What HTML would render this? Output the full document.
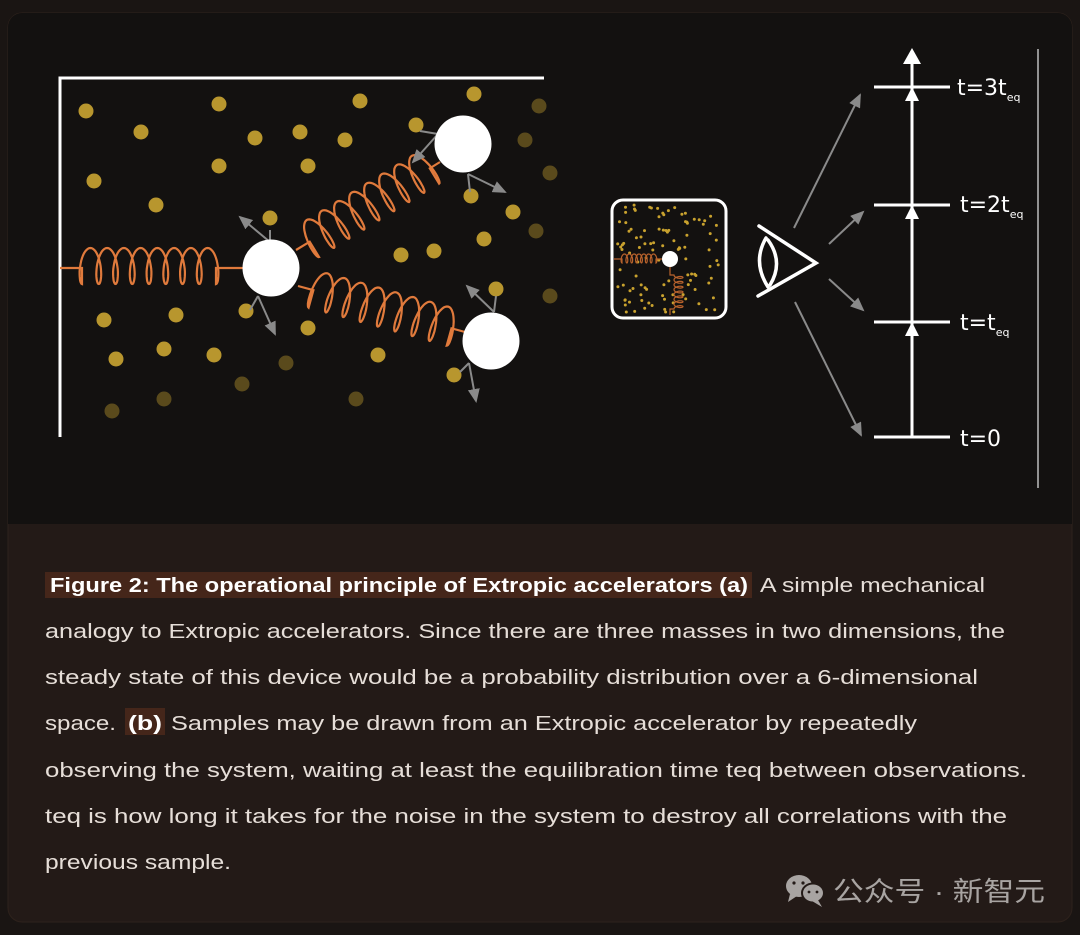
<!DOCTYPE html>
<html><head><meta charset="utf-8"><style>
html,body{margin:0;padding:0;background:#1a1513;}
svg{display:block}
</style></head><body>
<svg id="s" width="1080" height="935" viewBox="0 0 1080 935" xmlns="http://www.w3.org/2000/svg">
<rect x="0" y="0" width="1080" height="935" fill="#1a1513"/>
<rect x="8" y="13" width="1064" height="909" rx="14" fill="#231a17" stroke="#2e221c" stroke-width="1"/>
<path d="M8 27 a14 14 0 0 1 14 -14 H1058 a14 14 0 0 1 14 14 V524 H8 Z" fill="#131110"/>
<path d="M60 437 V78 H544" fill="none" stroke="#fff" stroke-width="3"/>
<g id="dots"></g>
<g id="springs" fill="none" stroke="#e07a3c" stroke-width="2.2"></g>
<defs>
<marker id="gb" markerWidth="14" markerHeight="12" refX="12" refY="6" orient="auto" markerUnits="userSpaceOnUse"><path d="M0 0 L14 6 L0 12 Z" fill="#8a8a8a"/></marker>
</defs>
<g stroke="#8a8a8a" stroke-width="2" fill="none">
<path d="M270 242 L240 217" marker-end="url(#gb)"/><path d="M270 242 V230"/>
<path d="M258 296 L275 334" marker-end="url(#gb)"/><path d="M258 296 L250 310"/>
<path d="M438 134 L413 162" marker-end="url(#gb)"/><path d="M438 134 L420 131"/>
<path d="M468 174 L505 192" marker-end="url(#gb)"/><path d="M468 174 L470 192"/>
<path d="M494 312 L467 286" marker-end="url(#gb)"/><path d="M494 312 L496 296"/>
<path d="M469 363 L476 401" marker-end="url(#gb)"/><path d="M469 363 L460 372"/>
</g>
<g fill="#fff">
<circle cx="271" cy="268" r="28.5"/>
<circle cx="463" cy="144" r="28.5"/>
<circle cx="491" cy="341" r="28.5"/>
</g>
<rect x="612" y="200" width="114" height="118" rx="11" fill="#131110" stroke="#fff" stroke-width="3"/>
<g id="sdots"></g>
<g id="ssprings" fill="none" stroke="#b8622c" stroke-width="1.2"></g>
<circle cx="670" cy="259" r="8" fill="#fff"/>
<g fill="none" stroke="#fff" stroke-width="3.5" stroke-linecap="round">
<path d="M759 226 L816 263 L758 296"/>
<path d="M766 238 Q752 262 768 287"/>
<path d="M768 240 Q784 262 770 285"/>
</g>
<g stroke="#8a8a8a" stroke-width="2" fill="none">
<path d="M794 228 L860 95" marker-end="url(#gb)"/>
<path d="M829 244 L863 212" marker-end="url(#gb)"/>
<path d="M829 279 L863 310" marker-end="url(#gb)"/>
<path d="M795 302 L861 435" marker-end="url(#gb)"/>
</g>
<g stroke="#fff" stroke-width="3" fill="none">
<path d="M912 437 V62"/>
<path d="M874 87 H950"/><path d="M874 205 H950"/><path d="M874 322 H950"/><path d="M874 437 H950"/>
</g>
<g fill="#fff">
<path d="M912 48 L903 64 L921 64 Z"/>
<path d="M912 87 L905 101 L919 101 Z"/>
<path d="M912 205 L905 219 L919 219 Z"/>
<path d="M912 322 L905 336 L919 336 Z"/>
</g>
<g fill="#fff" font-family="DejaVu Sans, 'Liberation Sans', sans-serif" font-size="22">
<text x="957" y="95">t=3t<tspan font-size="11" dy="6">eq</tspan></text>
<text x="960" y="212">t=2t<tspan font-size="11" dy="6">eq</tspan></text>
<text x="960" y="330">t=t<tspan font-size="11" dy="6">eq</tspan></text>
<text x="960" y="446">t=0</text>
</g>
<path d="M1038 49 V488" stroke="#bdbdbd" stroke-width="1.5"/>

<rect x="45" y="572" width="707" height="26" fill="#45261a"/>
<rect x="125" y="708" width="40" height="27" fill="#45261a"/>
<g font-family="'Liberation Sans', sans-serif" font-size="20.5" fill="#e6ded8">
<text x="50" y="592" font-weight="bold" fill="#fff" textLength="698" lengthAdjust="spacingAndGlyphs">Figure 2: The operational principle of Extropic accelerators  (a)</text>
<text x="760" y="592" textLength="225" lengthAdjust="spacingAndGlyphs">A simple mechanical</text>
<text x="45" y="638" textLength="960" lengthAdjust="spacingAndGlyphs">analogy to Extropic accelerators. Since there are three masses in two dimensions, the</text>
<text x="45" y="684" textLength="933" lengthAdjust="spacingAndGlyphs">steady state of this device would be a probability distribution over a 6-dimensional</text>
<text x="45" y="730" textLength="71" lengthAdjust="spacingAndGlyphs">space.</text>
<text x="128" y="730" font-weight="bold" fill="#fff" textLength="34" lengthAdjust="spacingAndGlyphs">(b)</text>
<text x="171" y="730" textLength="746" lengthAdjust="spacingAndGlyphs">Samples may be drawn from an Extropic accelerator by repeatedly</text>
<text x="45" y="777" textLength="982" lengthAdjust="spacingAndGlyphs">observing the system, waiting at least the equilibration time teq between observations.</text>
<text x="45" y="823" textLength="962" lengthAdjust="spacingAndGlyphs">teq is how long it takes for the noise in the system to destroy all correlations with the</text>
<text x="45" y="869" textLength="186" lengthAdjust="spacingAndGlyphs">previous sample.</text>
</g>
<g fill="#a8a4a2">
<ellipse cx="799" cy="886" rx="13" ry="11"/>
<path d="M790 894 L788 902 L797 896 Z"/>
<ellipse cx="813" cy="893" rx="11" ry="9.5" stroke="#231a17" stroke-width="2"/>
<path d="M818 900 L822 907 L812 901 Z"/>
</g>
<g fill="#231a17"><circle cx="794" cy="883" r="1.6"/><circle cx="803" cy="883" r="1.6"/><circle cx="809" cy="892" r="1.4"/><circle cx="817" cy="892" r="1.4"/></g>
<text x="833" y="901" font-family="'Liberation Sans','Noto Sans CJK SC',sans-serif" font-size="27" fill="#a8a4a2" textLength="212" lengthAdjust="spacingAndGlyphs">公众号 · 新智元</text>
</svg>
<script>
var NS="http://www.w3.org/2000/svg";
function el(p,tag,a){var e=document.createElementNS(NS,tag);for(var k in a)e.setAttribute(k,a[k]);p.appendChild(e);return e;}
var B="#b8962e",F="#5a4a1c";
var dots=[[86,111,B],[219,104,B],[360,101,B],[474,94,B],[539,106,F],[141,132,B],[255,138,B],[300,132,B],[345,140,B],[219,166,B],[308,166,B],[94,181,B],[156,205,B],[270,218,B],[416,125,B],[471,196,B],[513,212,B],[484,239,B],[434,251,B],[401,255,B],[525,140,F],[550,173,F],[536,231,F],[550,296,F],[104,320,B],[176,315,B],[246,311,B],[308,328,B],[496,289,B],[116,359,B],[164,349,B],[214,355,B],[378,355,B],[454,375,B],[286,363,F],[242,384,F],[164,399,F],[112,411,F],[356,399,F]];
var g=document.getElementById("dots");
dots.forEach(function(d){el(g,"circle",{cx:d[0],cy:d[1],r:7.5,fill:d[2]});});
function spring(g,ax,ay,bx,by,lead1,lead2,n,ru,h,off){
 var dx=bx-ax,dy=by-ay,L=Math.hypot(dx,dy),ux=dx/L,uy=dy/L,vx=-uy,vy=ux;
 var coil=L-lead1-lead2,pts=[[0,0],[lead1,0]];
 var N=n*40;
 for(var i=0;i<=N;i++){var t=i/N*2*Math.PI*n;
  var u=lead1+coil*i/N+ru*Math.sin(t);
  var v=off-h*(1-Math.cos(t))/2;
  pts.push([u,v]);}
 pts.push([L-lead2,0]);pts.push([L,0]);
 var d=pts.map(function(p,i){return (i?"L":"M")+(ax+p[0]*ux+p[1]*vx).toFixed(1)+" "+(ay+p[0]*uy+p[1]*vy).toFixed(1);}).join(" ");
 el(g,"path",{d:d});
}
var sg=document.getElementById("springs");
spring(sg,60,268,244,268,22,28,8,-6,36,16);
spring(sg,296,250,440,162,16,12,8,-6,38,18);
spring(sg,298,286,465,332,16,14,8,-6,38,18);
var sd=document.getElementById("sdots");
var seed=7;function rnd(){seed=(seed*9301+49297)%233280;return seed/233280;}
for(var i=0;i<120;i++){var x=617+rnd()*104,y=205+rnd()*108;
 if(Math.hypot(x-670,y-259)<11)continue;
 el(sd,"circle",{cx:x.toFixed(1),cy:y.toFixed(1),r:1.5,fill:"#c9a22e"});}
var ss=document.getElementById("ssprings");
spring(ss,614,259,662,259,8,6,7,-2,9,4);
spring(ss,670,267,670,315,8,6,7,2,9,-4);
</script>
</body></html>
